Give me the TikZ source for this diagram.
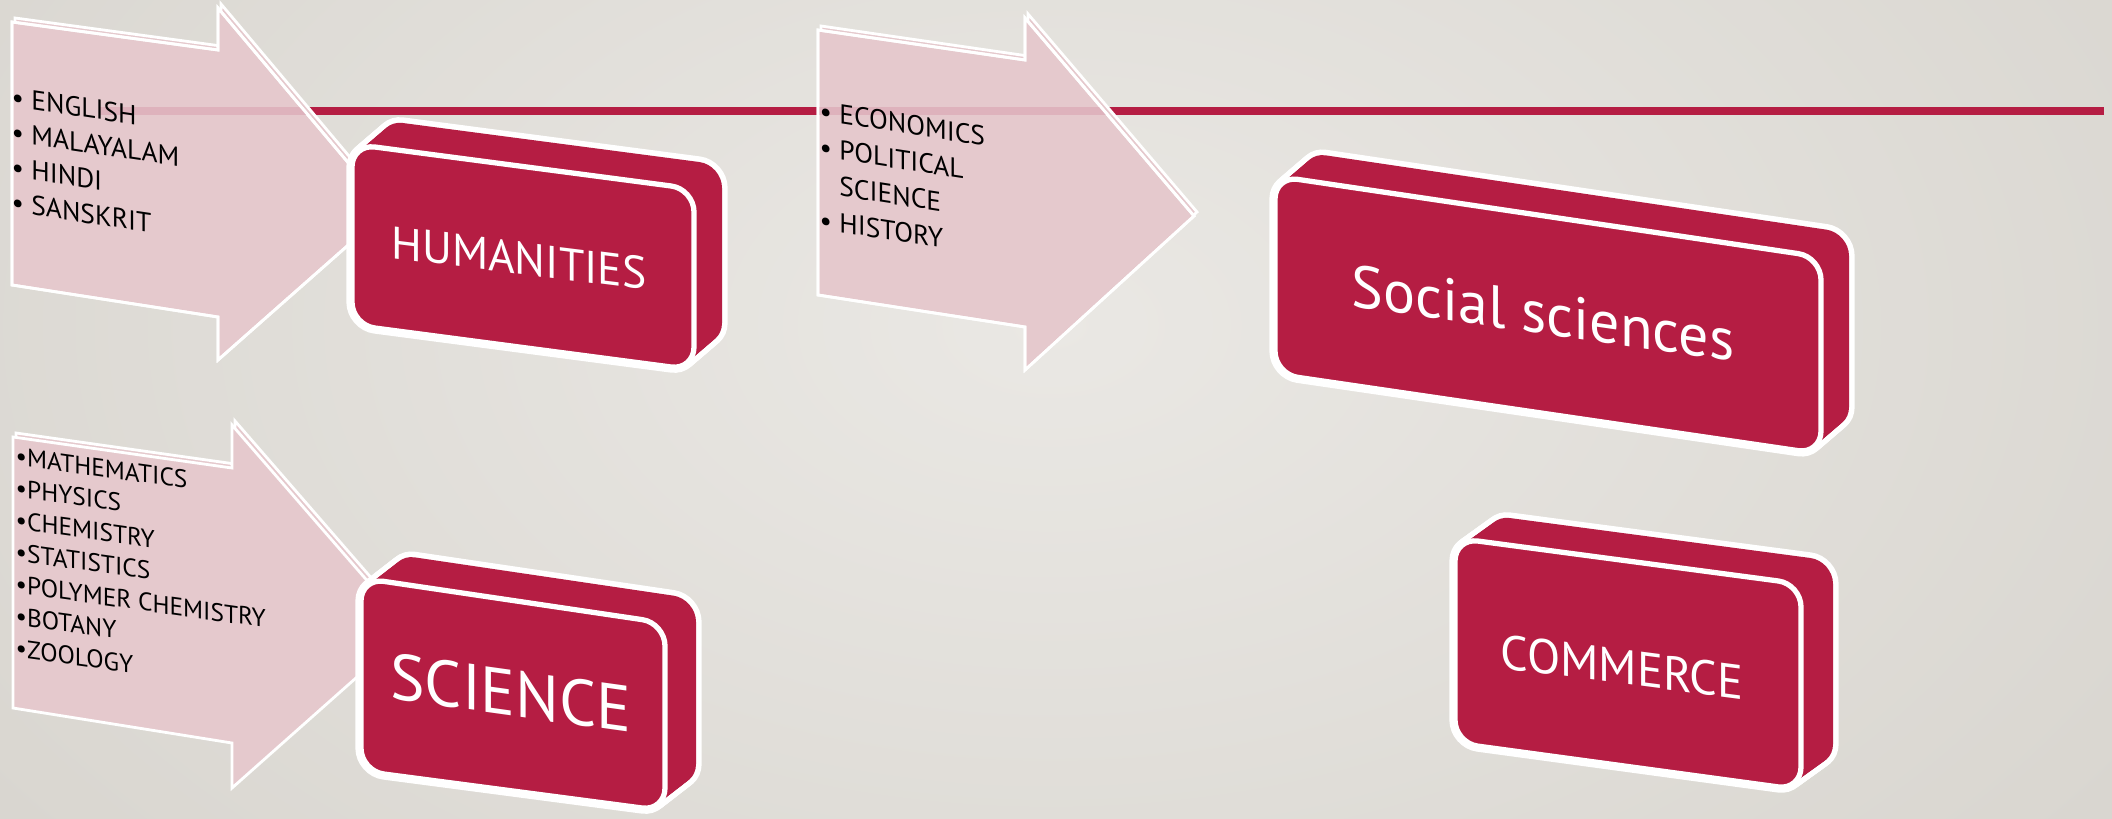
\documentclass[tikz,border=0pt]{standalone}
\usepackage{fontspec}
\setmainfont{PT Sans}
\usetikzlibrary{calc}
\definecolor{bgIn}{RGB}{234,232,228}
\definecolor{bgOut}{RGB}{217,214,208}
\definecolor{boxred}{RGB}{181,29,67}
\definecolor{arrowpink}{RGB}{229,201,205}
\definecolor{linepink}{RGB}{222,178,188}
\tikzset{
  slabsil/.style={draw=white, line width=3.2pt, rounded corners=6.5pt},
  slabbody/.style={fill=boxred, rounded corners=6.5pt},
  slabface/.style={draw=white, line width=1.5pt, fill=boxred, rounded corners=6.5pt},
  arrowshape/.style={fill=arrowpink, draw=white, line width=0.8pt},
  arrowedge/.style={draw=white, line width=0.8pt},
  redrule/.style={draw=boxred, line width=2pt},
  pinkrule/.style={draw=linepink, line width=2pt},
  listtext/.style={anchor=north west, inner sep=0pt, align=left, text=black},
  boxtext/.style={text=white, inner sep=0pt},
}
\newcommand{\slabbox}[6]{%
  \foreach \t in {0,0.0625,...,1.0}{\path[slabsil,shift={({\t*(#5)},{\t*(#6)})}] (#1) -- (#2) -- (#3) -- (#4) -- cycle;}
  \foreach \t in {0,0.0625,...,1.0}{\path[slabbody,shift={({\t*(#5)},{\t*(#6)})}] (#1) -- (#2) -- (#3) -- (#4) -- cycle;}
  \path[slabface] (#1) -- (#2) -- (#3) -- (#4) -- cycle;
}
\newcommand{\listarrow}[7]{%
  \path[arrowshape, shift={(3,-4)}] (#1) -- (#2) -- (#3) -- (#4) -- (#5) -- (#6) -- (#7) -- cycle;
  \path[arrowshape] (#1) -- (#2) -- (#3) -- (#4) -- (#5) -- (#6) -- (#7) -- cycle;
}
\newcommand{\arrowclip}[7]{\clip (#1) -- (#2) -- (#3) -- (#4) -- (#5) -- (#6) -- (#7) -- cycle;}
\newcommand{\arrowline}[7]{\path[arrowedge] (#1) -- (#2) -- (#3) -- (#4) -- (#5) -- (#6) -- (#7) -- cycle;}
\begin{document}
\begin{tikzpicture}[x=0.01cm,y=-0.01cm]
\useasboundingbox (0,0) rectangle (2112,818);
\fill[bgOut] (0,0) rectangle (2112,818);
\shade[inner color=bgIn, outer color=bgOut] (-250,-500) rectangle (2350,1150);

% horizontal rule
\coordinate (ruleA) at (100,111);
\coordinate (ruleB) at (2104,111);
\draw[redrule] (ruleA) -- (ruleB);

% humanities arrow
\def\HA{{12,22}{218,50}{218,8}{388,210}{218,360}{218,317}{12,285}}
\expandafter\listarrow\HA
\begin{scope}
  \expandafter\arrowclip\HA
  \draw[pinkrule] (ruleA) -- (ruleB);
\end{scope}
\expandafter\arrowline\HA

% economics arrow
\def\EA{{818,30}{1025,60}{1025,18}{1194,216}{1025,370}{1025,327}{818,295}}
\expandafter\listarrow\EA
\begin{scope}
  \expandafter\arrowclip\EA
  \draw[pinkrule] (ruleA) -- (ruleB);
\end{scope}
\expandafter\arrowline\EA

% science arrow
\listarrow{13,437}{232,468}{232,425}{410,630}{232,788}{232,743}{13,708}

% lists
\node[listtext, yslant=-0.15, font=\fontsize{7.8}{10}\selectfont] (humlist) at (11,86)
  {• ENGLISH\\• MALAYALAM\\• HINDI\\• SANSKRIT};
\node[listtext, yslant=-0.155, font=\fontsize{7.8}{10.3}\selectfont] (ecolist) at (819,100)
  {• ECONOMICS\\• POLITICAL\\\phantom{• }SCIENCE\\• HISTORY};
\node[listtext, yslant=-0.14, font=\fontsize{7.2}{9.1}\selectfont] (scilist) at (15,446)
  {•MATHEMATICS\\•PHYSICS\\•CHEMISTRY\\•STATISTICS\\•POLYMER CHEMISTRY\\•BOTANY\\•ZOOLOGY};

% boxes
\slabbox{352,144}{694,189}{694,370}{352,325}{28}{-24}
\slabbox{1275,176}{1821,257}{1821,454}{1275,374}{28}{-24}
\slabbox{361,578}{665,623}{665,811}{361,771}{31}{-24}
\slabbox{1455,538}{1801,584}{1801,790}{1455,743}{32}{-23}

\node[boxtext, yslant=-0.125, font=\fontsize{13}{13}\selectfont] (hum) at (519,258) {HUMANITIES};
\node[boxtext, yslant=-0.145, font=\fontsize{17}{17}\selectfont] (soc) at (1543,313) {Social sciences};
\node[boxtext, yslant=-0.14, font=\fontsize{18.5}{18.5}\selectfont] (sci) at (511,693) {SCIENCE};
\node[boxtext, yslant=-0.13, font=\fontsize{13.8}{13.8}\selectfont] (com) at (1622,667) {COMMERCE};
\end{tikzpicture}
\end{document}
